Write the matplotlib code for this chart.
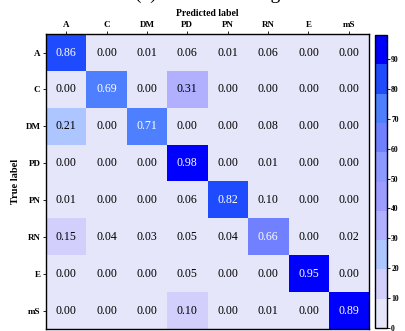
import matplotlib
matplotlib.use("Agg")
import matplotlib.pyplot as plt
from matplotlib.colors import ListedColormap, Normalize
import numpy as np

plt.rcParams['font.family'] = ['Liberation Serif', 'DejaVu Serif']

labels = ["A", "C", "DM", "PD", "PN", "RN", "E", "mS"]

row_A = [0.86, 0.00, 0.01, 0.06, 0.01, 0.06, 0.00, 0.00]
row_C = [0.00, 0.69, 0.00, 0.31, 0.00, 0.00, 0.00, 0.00]
row_DM = [0.21, 0.00, 0.71, 0.00, 0.00, 0.08, 0.00, 0.00]
row_PD = [0.00, 0.00, 0.00, 0.98, 0.00, 0.01, 0.00, 0.00]
row_PN = [0.01, 0.00, 0.00, 0.06, 0.82, 0.097, 0.00, 0.00]
row_RN = [0.15, 0.04, 0.03, 0.05, 0.04, 0.66, 0.00, 0.02]
row_E = [0.00, 0.00, 0.00, 0.05, 0.00, 0.00, 0.95, 0.00]
row_mS = [0.00, 0.00, 0.00, 0.10, 0.00, 0.01, 0.00, 0.89]

cm = np.array([row_A, row_C, row_DM, row_PD, row_PN, row_RN, row_E, row_mS])

# 10 farb: od lawendy do czystego niebieskiego
band_colors = ["#e6e6fa", "#d2cffd", "#aec6ff", "#b0b0ff", "#9d9dff",
               "#8c9aff", "#7080ff", "#4d7fff", "#1f4bff", "#0000ff"]
cmap = ListedColormap(band_colors)

fig = plt.figure(figsize=(4.06, 3.31), dpi=100)
ax = fig.add_axes([0.1133, 0.006, 0.7956, 0.891])
cax = fig.add_axes([0.9236, 0.009, 0.0296, 0.885])

pct = cm * 100
im = ax.imshow(pct, cmap=cmap, norm=Normalize(vmin=0, vmax=pct.max()), aspect='auto')

for i in range(len(labels)):
    for j in range(len(labels)):
        v = cm[i, j]
        ax.text(j, i, f"{v:.2f}", ha='center', va='center', fontsize=8.6,
                color='white' if v > 0.49 else 'black')

ax.set_xticks(range(len(labels)))
ax.set_yticks(range(len(labels)))
ax.set_xticklabels(labels, fontsize=6.5, fontweight='bold')
ax.set_yticklabels(labels, fontsize=6.5, fontweight='bold')
ax.xaxis.tick_top()
ax.xaxis.set_label_position('top')
ax.tick_params(length=2, width=0.6, pad=2)
ax.set_xlabel("Predicted label", fontsize=7, fontweight='bold', labelpad=3)
ax.set_ylabel("True label", fontsize=7.5, fontweight='bold', labelpad=4)
for s in ax.spines.values():
    s.set_linewidth(1.0)

cb = fig.colorbar(im, cax=cax, ticks=list(range(0, 100, 10)))
cb.ax.tick_params(labelsize=5.5, length=2, width=0.6, pad=1)
cb.outline.set_linewidth(1.0)
for t in cb.ax.get_yticklabels():
    t.set_fontweight('bold')

# tytuł prawie cały poza kadrem
fig.text(0.511, 1.004, "(a) Before training", ha='center', va='baseline', fontsize=14)

fig.savefig("out.png", dpi=100)
